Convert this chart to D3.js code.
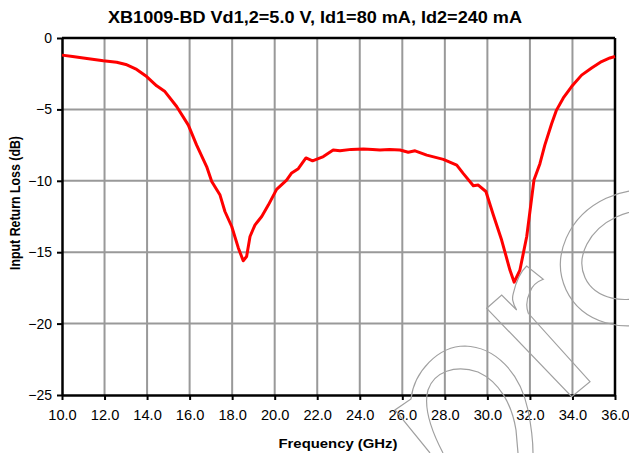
<!DOCTYPE html>
<html><head><meta charset="utf-8">
<script src="https://cdn.jsdelivr.net/npm/d3@7"></script>
<style>body{margin:0;background:#fff}svg{display:block}text{font-family:"Liberation Sans",Arial,sans-serif}</style>
</head><body>
<svg id="c" width="629" height="453"></svg>
<script>
const freqGHz = [10, 10.5, 11, 11.94, 12.57, 13.0, 13.51, 13.98, 14.45, 14.84, 15.39, 15.94, 16.33, 16.80, 17.04, 17.43, 17.66, 17.98, 18.29, 18.52, 18.68, 18.84, 19.07, 19.39, 19.70, 20.09, 20.56, 20.80, 21.11, 21.47, 21.78, 22.29, 22.75, 23.07, 23.6, 24.17, 24.6, 24.95, 25.4, 25.89, 26.28, 26.60, 27.15, 27.93, 28.56, 28.87, 29.34, 29.57, 29.93, 30.28, 30.67, 31.06, 31.26, 31.53, 31.85, 32.19, 32.47, 32.70, 33.02, 33.25, 33.57, 33.96, 34.43, 34.90, 35.37, 35.76, 36.0];
const returnLossDb = [-1.2, -1.3, -1.4, -1.6, -1.7, -1.85, -2.2, -2.7, -3.35, -3.75, -4.8, -6.1, -7.5, -9.0, -10.05, -11.0, -12.15, -13.2, -14.7, -15.6, -15.3, -13.9, -13.1, -12.5, -11.7, -10.6, -9.95, -9.45, -9.15, -8.4, -8.6, -8.3, -7.85, -7.9, -7.8, -7.77, -7.8, -7.84, -7.8, -7.84, -8.0, -7.9, -8.2, -8.5, -8.9, -9.5, -10.35, -10.3, -10.75, -12.4, -14.15, -16.25, -17.1, -16.25, -13.9, -9.95, -8.8, -7.5, -6.0, -5.05, -4.2, -3.4, -2.6, -2.1, -1.65, -1.4, -1.3];
const xTicks = [10, 12, 14, 16, 18, 20, 22, 24, 26, 28, 30, 32, 34, 36];
const yTicks = [0, -5, -10, -15, -20, -25];
const titleText = "XB1009-BD Vd1,2=5.0 V, Id1=80 mA, Id2=240 mA";
const xTitle = "Frequency (GHz)";
const yTitle = "Input Return Loss (dB)";

const L = 62, R = 615, T = 38, B = 395;
const FONT = '"Liberation Sans",Arial,sans-serif';
const svg = d3.select("#c");
const x = d3.scaleLinear().domain([10, 36]).range([L, R]);
const y = d3.scaleLinear().domain([-25, 0]).range([B, T]);

// gridlines
svg.append("g").selectAll("line").data(xTicks.slice(1, -1)).join("line")
  .attr("x1", d => x(d)).attr("x2", d => x(d)).attr("y1", T).attr("y2", B)
  .attr("stroke", "#999").attr("stroke-width", 2);
svg.append("g").selectAll("line").data(yTicks.slice(1, -1)).join("line")
  .attr("y1", d => y(d)).attr("y2", d => y(d)).attr("x1", L).attr("x2", R)
  .attr("stroke", "#999").attr("stroke-width", 2);

// axes
const xAxis = svg.append("g").attr("transform", `translate(0,${B})`)
  .call(d3.axisBottom(x).tickValues(xTicks).tickFormat(d3.format(".1f")).tickSizeInner(5).tickSizeOuter(0).tickPadding(9));
const yAxis = svg.append("g").attr("transform", `translate(${L},0)`)
  .call(d3.axisLeft(y).tickValues(yTicks).tickFormat(d => d === 0 ? "0" : d3.format("d")(d)).tickSizeInner(5).tickSizeOuter(0).tickPadding(5));
[xAxis, yAxis].forEach(a => {
  a.select(".domain").attr("stroke", "#000").attr("stroke-width", 2.5);
  a.selectAll(".tick line").attr("stroke", "#000").attr("stroke-width", 2);
  a.selectAll(".tick text").attr("fill", "#000").attr("font-family", FONT);
});
xAxis.selectAll(".tick text").attr("font-size", 15).attr("textLength", 28.5).attr("lengthAdjust", "spacingAndGlyphs");
yAxis.selectAll(".tick text").attr("font-size", 14);
// top and right border
svg.append("line").attr("x1", L).attr("x2", R).attr("y1", T).attr("y2", T).attr("stroke", "#000").attr("stroke-width", 2.5);
svg.append("line").attr("x1", R).attr("x2", R).attr("y1", T).attr("y2", B).attr("stroke", "#000").attr("stroke-width", 2.5);

// watermark (decorative outline)
const wm = svg.append("g").attr("fill", "none").attr("stroke", "#a0a0a0").attr("stroke-width", 1.2);
wm.append("ellipse").attr("cx", 634).attr("cy", 258).attr("rx", 75).attr("ry", 66).attr("transform", "rotate(-25,634,258)");
wm.append("ellipse").attr("cx", 634).attr("cy", 255).attr("rx", 54).attr("ry", 42).attr("transform", "rotate(-25,634,255)");
wm.append("path").attr("d", "M486.7,308.3 L501.7,295 L516.7,310 C512,302 512,298 513.3,293.3 C516,282 520,272 526.7,266 L543.3,279.3 C536,282 532,286 530,292 C526,300 526,307 528.3,313.3 L590,381.7 L571.7,396.7 Z");
wm.append("path").attr("d", "M430,453 L395,410 L411,399 C414,372 438,346 465,346 C495,347 520,372 528,410 C531,425 533,440 533,453");
wm.append("path").attr("d", "M443,453 C432,432 423,408 428,390 C434,372 455,364 478,372 C500,382 512,405 516,430 L518,453");

// data line
svg.append("path").datum(freqGHz.map((f, i) => [f, returnLossDb[i]]))
  .attr("fill", "none").attr("stroke", "#ff0000").attr("stroke-width", 3).attr("stroke-linejoin", "round")
  .attr("d", d3.line().x(d => x(d[0])).y(d => y(d[1])));

// titles
svg.append("text").attr("x", 315).attr("y", 23).attr("text-anchor", "middle")
  .attr("font-size", 16).attr("font-weight", "bold")
  .attr("textLength", 414).attr("lengthAdjust", "spacingAndGlyphs").text(titleText);
svg.append("text").attr("x", 338).attr("y", 448).attr("text-anchor", "middle")
  .attr("font-size", 13).attr("font-weight", "bold")
  .attr("textLength", 119).attr("lengthAdjust", "spacingAndGlyphs").text(xTitle);
svg.append("text").attr("transform", `translate(20,203) rotate(-90)`).attr("text-anchor", "middle")
  .attr("font-size", 14).attr("font-weight", "bold")
  .attr("textLength", 134).attr("lengthAdjust", "spacingAndGlyphs").text(yTitle);
</script>
</body></html>
